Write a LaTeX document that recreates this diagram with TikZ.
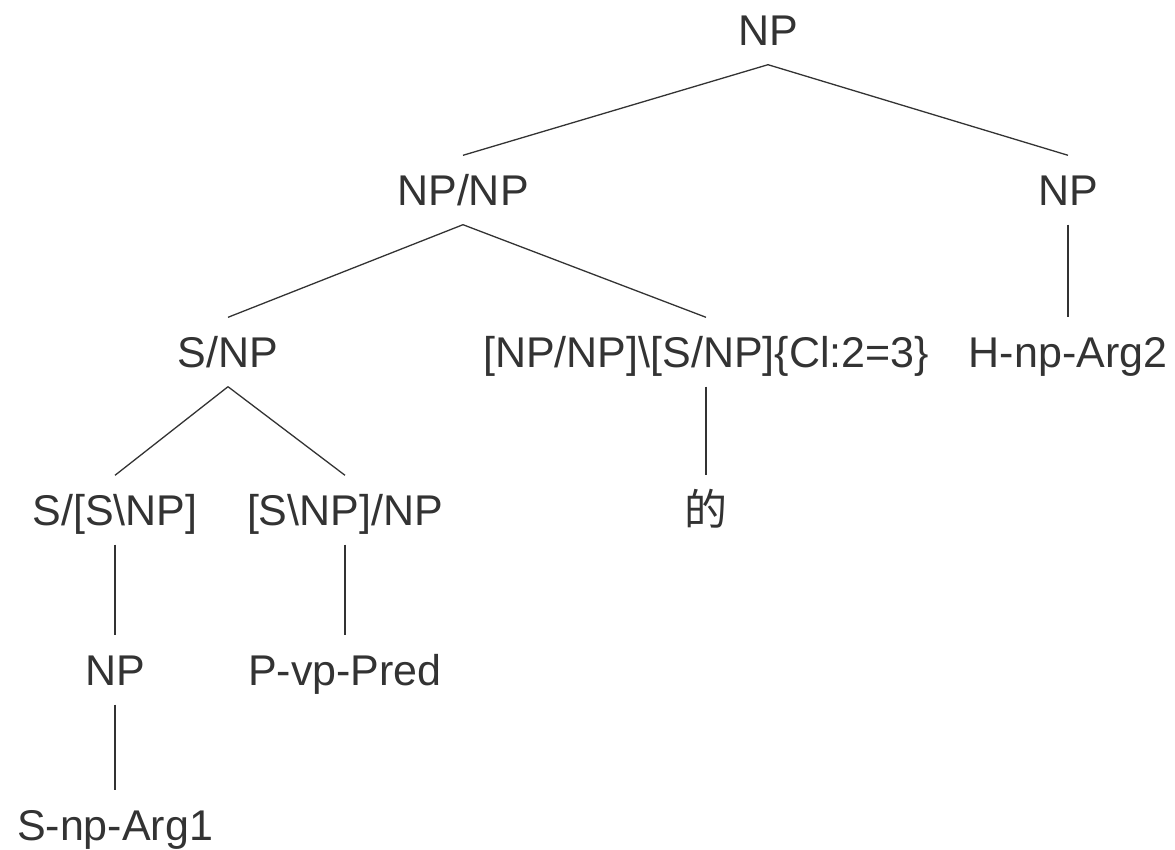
\documentclass[tikz,border=0pt]{standalone}
\usepackage{fontspec}
\setmainfont{Liberation Sans}
\newfontfamily\cjk{Noto Sans CJK SC}
\definecolor{treeink}{HTML}{333333}

\begin{document}
\begin{tikzpicture}[x=1pt,y=-1pt,
	cat/.style={text=treeink,font=\fontsize{43}{50}\selectfont,text height=31pt,text depth=0pt,inner xsep=2pt,inner ysep=19pt},
	edge/.style={draw=treeink,line width=1.3pt}]
			\useasboundingbox (0,0) rectangle (1175,850);
			\node[cat] (np)at(768,30) {NP};
			\node[cat] (npnp)at(463,190) {NP/NP};
			\node[cat] (nphead)at(1068,190) {NP};
			\node[cat] (snp)at(228,352) {S/NP};
			\node[cat] (de)at(706,352) {[NP/NP]\textbackslash[S/NP]\{Cl:2=3\}};
			\node[cat] (harg)at(1068,352) {H-np-Arg2};
			\node[cat] (ssnp)at(115,510) {S/[S\textbackslash NP]};
			\node[cat] (snpnp)at(345,510) {[S\textbackslash NP]/NP};
			\node[cat] (dechar)at(706,510) {\cjk 的};
			\node[cat] (npsub)at(115,670) {NP};
			\node[cat] (pred)at(345,670) {P-vp-Pred};
			\node[cat] (sarg)at(115,825) {S-np-Arg1};
			\draw[edge] (np.south) -- (npnp.north);
			\draw[edge] (np.south) -- (nphead.north);
			\draw[edge] (npnp.south) -- (snp.north);
			\draw[edge] (npnp.south) -- (de.north);
			\draw[edge] (nphead.south) -- (harg.north);
			\draw[edge] (snp.south) -- (ssnp.north);
			\draw[edge] (snp.south) -- (snpnp.north);
			\draw[edge] (de.south) -- (dechar.north);
			\draw[edge] (ssnp.south) -- (npsub.north);
			\draw[edge] (snpnp.south) -- (pred.north);
			\draw[edge] (npsub.south) -- (sarg.north);
\end{tikzpicture}
\end{document}
